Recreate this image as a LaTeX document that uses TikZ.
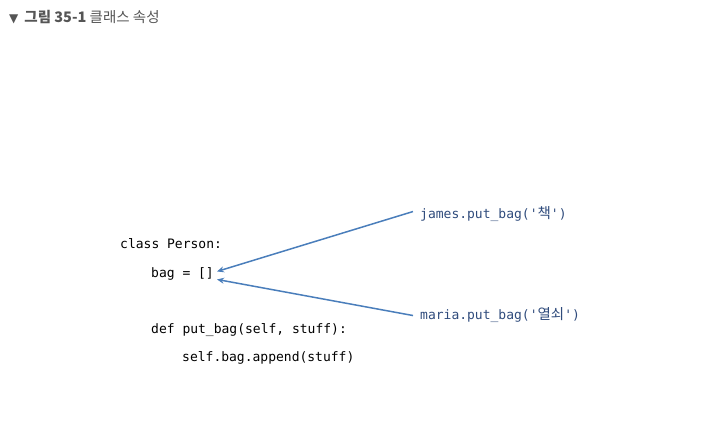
\documentclass[tikz,border=0pt]{standalone}
\usepackage{fontspec}
\usepackage{tikz}
\usetikzlibrary{arrows.meta,positioning,calc}
\newfontfamily\cjk{Noto Sans CJK KR}
\newfontfamily\codefont{DejaVu Sans Mono}
\newfontfamily\symfont{DejaVu Sans}
\definecolor{arrowblue}{HTML}{4A7EBB}
\definecolor{callblue}{HTML}{2F4B7C}
\definecolor{titlegray}{HTML}{555555}
\newcommand{\hangul}[1]{{\cjk\fontsize{14.5}{15}\selectfont #1}}

\begin{document}
\begin{tikzpicture}[x=1pt,y=-1pt,code/.style={anchor=base west,inner sep=2pt,font=\codefont\fontsize{13}{15}\selectfont},call/.style={code,text=callblue},arr/.style={draw=arrowblue,line width=1.5pt,-{Stealth[length=7pt,width=6pt]}},>=Stealth]
\useasboundingbox (0,0) rectangle (727,435);
\node[anchor=base west,inner sep=0pt,text=titlegray,font=\cjk\fontsize{14.5}{16}\selectfont] (title) at (9,23) {{\symfont\fontsize{12}{13}\selectfont ▼}\hspace{6pt}\textbf{그림 35-1} 클래스 속성};
\node[code] (cls) at (118,249) {class Person:};
\node[code] (bag) at (149,277) {bag = []};
\node[code] (def) at (149,333) {def put\_bag(self, stuff):};
\node[code] (body) at (180,361) {self.bag.append(stuff)};
\node[call] (james) at (418,219) {james.put\_bag('\hangul{책}')};
\node[call] (maria) at (418,319) {maria.put\_bag('\hangul{열쇠}')};
\draw[arr] ([xshift=-5pt,yshift=3pt]james.west)--([xshift=1pt,yshift=2pt]bag.east);
\draw[arr] ([xshift=-5pt,yshift=-1pt]maria.west)--([xshift=1pt,yshift=-6pt]bag.east);
\end{tikzpicture}
\end{document}
